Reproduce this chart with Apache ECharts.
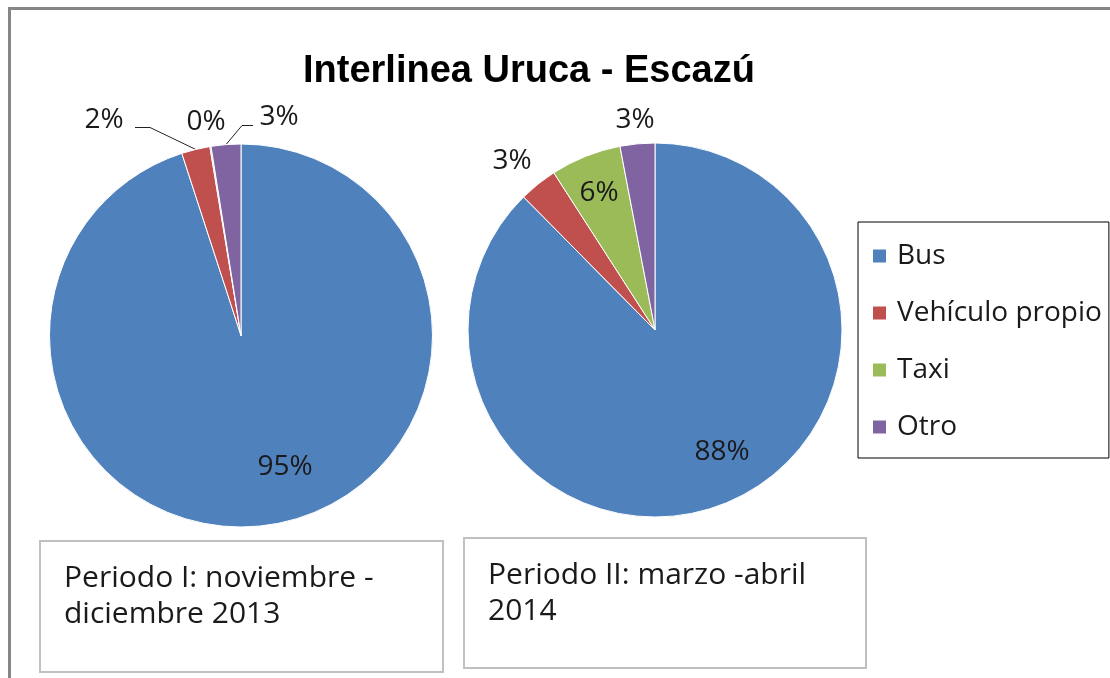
<!DOCTYPE html>
<html>
<head>
<meta charset="utf-8">
<script src="https://cdn.jsdelivr.net/npm/echarts@6/dist/echarts.min.js"></script>
<style>
  html, body { margin: 0; padding: 0; background: #fff; }
  #main { width: 1110px; height: 678px; }
</style>
</head>
<body>
<div id="main"></div>
<script>
// modos de transporte
const categories = ['Bus', 'Vehículo propio', 'Taxi', 'Otro'];
// Periodo I: noviembre - diciembre 2013 (%)
const periodo1 = [95.0, 2.4, 0.1, 2.5];
// Periodo II: marzo - abril 2014 (%)
const periodo2 = [87.6, 3.3, 6.1, 3.0];
const chartTitle = 'Interlinea Uruca - Escazú';
const periodTexts = ['Periodo I: noviembre -\ndiciembre 2013', 'Periodo II: marzo -abril\n2014'];

const colors = ['#4F81BD', '#C0504D', '#9BBB59', '#8064A2'];
const bodyFont = '"Open Sans", "Noto Sans", sans-serif';
const textColor = '#1a1a1a';

// pie placement
const pies = [
  { center: [241, 335.5], radius: 191.5 },
  { center: [655, 330], radius: 187 }
];
// where each slice label sits, offset from the pie centre
const labelOffsets = [
  [[44, 132], [-137, -215], [-35, -213], [38, -218]],
  [[67, 122], [-143, -169], [-56, -137], [-20, -210]]
];
// leader lines: [bendDx, endDx, dy] from label centre, null = no line
const leaderLines = [
  [null, [46, 31, 7], null, [-37, -26, 8]],
  [null, null, null, null]
];

function makeLayout(si) {
  return function (params) {
    const c = pies[si].center;
    const off = labelOffsets[si][params.dataIndex];
    const x = c[0] + off[0];
    const y = c[1] + off[1];
    const res = { x: x, y: y, align: 'center', verticalAlign: 'middle' };
    const ll = leaderLines[si][params.dataIndex];
    if (ll && params.labelLinePoints) {
      res.labelLinePoints = [
        params.labelLinePoints[0],
        [x + ll[0], y + ll[2]],
        [x + ll[1], y + ll[2]]
      ];
    }
    return res;
  };
}

function pieSeries(si, values) {
  return {
    type: 'pie',
    center: pies[si].center,
    radius: pies[si].radius,
    startAngle: 90,
    clockwise: true,
    avoidLabelOverlap: false,
    percentPrecision: 0,
    itemStyle: { borderColor: '#fff', borderWidth: 1 },
    emphasis: { disabled: true },
    label: {
      show: true,
      position: 'outside',
      formatter: '{d}%',
      fontFamily: bodyFont,
      fontSize: 28,
      color: textColor
    },
    labelLine: { show: false, lineStyle: { color: '#222', width: 1 } },
    labelLayout: makeLayout(si),
    data: categories.map(function (name, i) {
      const item = { name: name, value: values[i] };
      if (leaderLines[si][i]) item.labelLine = { show: true };
      return item;
    })
  };
}

const chart = echarts.init(document.getElementById('main'));
chart.setOption({
  animation: false,
  color: colors,
  title: {
    text: chartTitle,
    left: 303,
    top: 53,
    padding: 0,
    textStyle: {
      fontFamily: '"Liberation Sans", Arial, sans-serif',
      fontWeight: 'bold',
      fontSize: 38,
      color: '#000'
    }
  },
  legend: {
    data: categories,
    orient: 'vertical',
    left: 858,
    top: 222,
    icon: 'rect',
    itemWidth: 15,
    itemHeight: 15,
    itemGap: 27,
    padding: [19, 7, 16, 13],
    borderColor: '#000',
    borderWidth: 1,
    selectedMode: false,
    textStyle: {
      fontFamily: bodyFont,
      fontSize: 28,
      color: textColor,
      lineHeight: 30,
      padding: [0, 0, 0, 5]
    }
  },
  graphic: [
    {
      type: 'rect', silent: true,
      shape: { x: 9.5, y: 8.5, width: 1200, height: 800 },
      style: { fill: 'none', stroke: '#868686', lineWidth: 3 }
    },
    {
      type: 'rect', silent: true,
      shape: { x: 40, y: 541, width: 403, height: 131 },
      style: { fill: '#fff', stroke: '#c0c0c0', lineWidth: 2 }
    },
    {
      type: 'text', silent: true, left: 64, top: 560,
      style: { text: periodTexts[0], fontFamily: bodyFont, fontSize: 30, lineHeight: 36, fill: textColor }
    },
    {
      type: 'rect', silent: true,
      shape: { x: 464, y: 538, width: 402, height: 130 },
      style: { fill: '#fff', stroke: '#c0c0c0', lineWidth: 2 }
    },
    {
      type: 'text', silent: true, left: 488, top: 557,
      style: { text: periodTexts[1], fontFamily: bodyFont, fontSize: 30, lineHeight: 36, fill: textColor }
    }
  ],
  series: [pieSeries(0, periodo1), pieSeries(1, periodo2)]
});
</script>
</body>
</html>
